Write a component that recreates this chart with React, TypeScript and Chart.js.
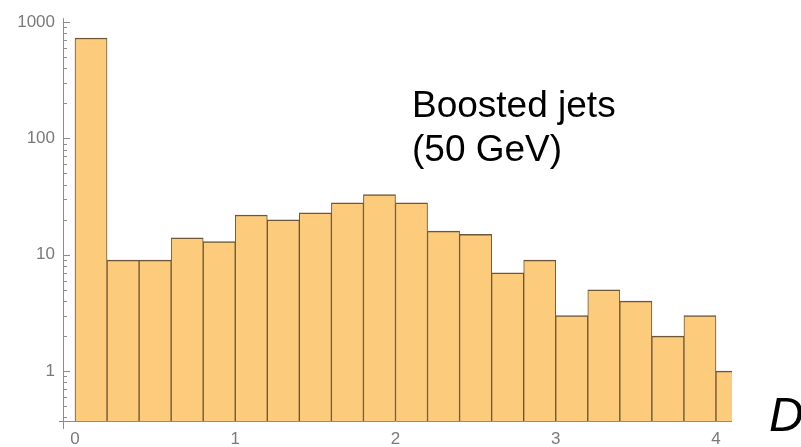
import { useEffect, useRef } from "react";
import { Chart, registerables } from "chart.js";

Chart.register(...registerables);

// Histogram bins (width 0.2), centres of each bin
const binCenters = [0.1, 0.3, 0.5, 0.7, 0.9, 1.1, 1.3, 1.5, 1.7, 1.9, 2.1, 2.3, 2.5, 2.7, 2.9, 3.1, 3.3, 3.5, 3.7, 3.9, 4.1];
// Counts per bin (log scale)
const counts = [730, 9, 9, 14, 13, 22, 20, 23, 28, 33, 28, 16, 15, 7, 9, 3, 5, 4, 2, 3, 1];

const xTickValues = [0, 1, 2, 3, 4];
const yMajorTicks = [1, 10, 100, 1000];
const yMinorTicks = [
  0.4, 0.5, 0.6, 0.7, 0.8, 0.9,
  2, 3, 4, 5, 6, 7, 8, 9,
  20, 30, 40, 50, 60, 70, 80, 90,
  200, 300, 400, 500, 600, 700, 800, 900,
];

const annotationLines = ["Boosted jets", "(50 GeV)"];
const cornerLabel = "D";

const AXIS_COLOR = "#8c8c8c";
const LABEL_COLOR = "#7a7a7a";

const axesPlugin = {
  id: "mmaAxes",
  afterDatasetsDraw(chart: any) {
    const { ctx, chartArea } = chart;
    const { left, top, right, bottom } = chartArea;
    const y = chart.scales.y;
    ctx.save();
    ctx.strokeStyle = AXIS_COLOR;
    ctx.lineWidth = 1;
    ctx.beginPath();
    // axes
    ctx.moveTo(left + 0.5, top);
    ctx.lineTo(left + 0.5, bottom + 8);
    ctx.moveTo(left - 4, Math.round(bottom) + 0.5);
    ctx.lineTo(right, Math.round(bottom) + 0.5);
    // major y ticks
    yMajorTicks.forEach((v) => {
      const p = Math.round(y.getPixelForValue(v)) + 0.5;
      ctx.moveTo(left, p);
      ctx.lineTo(left + 7, p);
    });
    // minor y ticks
    yMinorTicks.forEach((v) => {
      const p = Math.round(y.getPixelForValue(v)) + 0.5;
      if (p < top || p > bottom) return;
      ctx.moveTo(left, p);
      ctx.lineTo(left + 4, p);
    });
    ctx.stroke();
    ctx.restore();
  },
};

export default function App() {
  const canvasRef = useRef<HTMLCanvasElement | null>(null);

  useEffect(() => {
    if (!canvasRef.current) return;
    const chart = new Chart(canvasRef.current, {
      type: "bar",
      data: {
        datasets: [
          {
            data: binCenters.map((x, i) => ({ x, y: counts[i] })),
            backgroundColor: "rgb(252, 203, 124)",
            borderColor: "rgba(100, 78, 45, 0.95)",
            borderWidth: { top: 1.5, left: 1, right: 1, bottom: 0 },
            borderSkipped: "start",
            barPercentage: 1,
            categoryPercentage: 1,
            clip: 0,
          } as any,
        ],
      },
      options: {
        responsive: false,
        animation: false,
        layout: { padding: { top: 15, right: 69, left: 0, bottom: 0 } },
        plugins: { legend: { display: false }, tooltip: { enabled: false } },
        scales: {
          x: {
            type: "linear",
            min: -0.075,
            max: 4.1,
            offset: false,
            grid: { display: false, drawTicks: false },
            border: { display: false },
            afterBuildTicks: (scale: any) => {
              scale.ticks = xTickValues.map((v) => ({ value: v }));
            },
            afterFit: (scale: any) => {
              scale.height = 26;
            },
            ticks: {
              autoSkip: false,
              maxRotation: 0,
              padding: 8,
              color: LABEL_COLOR,
              font: { family: "'Liberation Sans', Arial, sans-serif", size: 17 },
              callback: (v: any) => String(v),
            },
          },
          y: {
            type: "logarithmic",
            min: 0.373,
            max: 1080,
            grid: { display: false, drawTicks: false },
            border: { display: false },
            afterBuildTicks: (scale: any) => {
              scale.ticks = yMajorTicks.map((v) => ({ value: v, major: true }));
            },
            afterFit: (scale: any) => {
              scale.width = 63;
            },
            ticks: {
              autoSkip: false,
              padding: 8,
              color: LABEL_COLOR,
              font: { family: "'Liberation Sans', Arial, sans-serif", size: 17 },
              callback: (v: any) => String(v),
            },
          },
        },
      },
      plugins: [axesPlugin],
    });
    return () => chart.destroy();
  }, []);

  return (
    <div
      style={{
        position: "absolute",
        left: 0,
        top: 0,
        width: 801,
        height: 447,
        overflow: "hidden",
        background: "#ffffff",
      }}
    >
      <canvas ref={canvasRef} width={801} height={447} style={{ display: "block" }} />
      <div
        style={{
          position: "absolute",
          left: 412,
          top: 83,
          fontFamily: "'Liberation Sans', Arial, sans-serif",
          fontSize: 37,
          lineHeight: "44px",
          color: "#000",
          whiteSpace: "nowrap",
        }}
      >
        {annotationLines.map((l) => (
          <div key={l}>{l}</div>
        ))}
      </div>
      <div
        style={{
          position: "absolute",
          left: 769,
          top: 391,
          fontFamily: "'Liberation Sans', Arial, sans-serif",
          fontStyle: "italic",
          fontSize: 48,
          lineHeight: "48px",
          color: "#000",
          whiteSpace: "nowrap",
        }}
      >
        {cornerLabel}
      </div>
    </div>
  );
}
